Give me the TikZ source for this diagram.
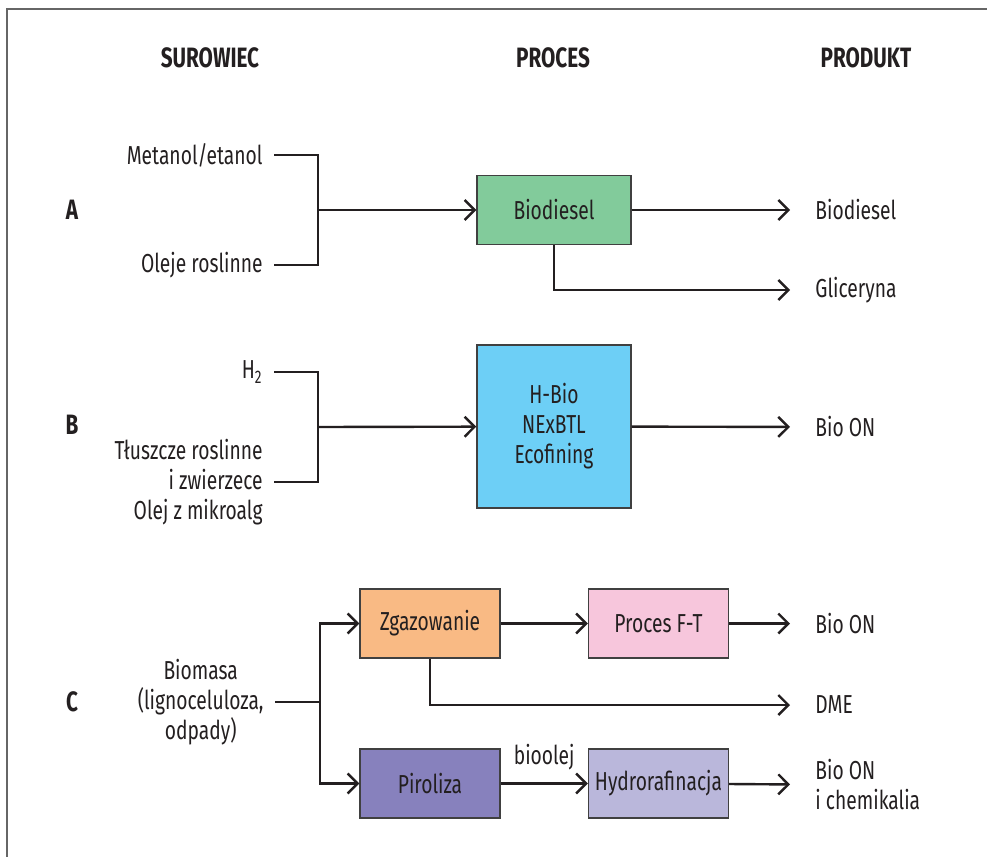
\documentclass[tikz,border=0pt]{standalone}
\usepackage{fontspec}
\setmainfont{Fira Sans}[FakeStretch=0.74]
\usetikzlibrary{arrows.meta}

\definecolor{kreska}{HTML}{231F20}
\definecolor{ramka}{HTML}{404040}
\definecolor{zielony}{HTML}{82CB9B}
\definecolor{niebieski}{HTML}{6DCFF6}
\definecolor{pomarancz}{HTML}{F9BA84}
\definecolor{roz}{HTML}{F7C6DC}
\definecolor{fiolet}{HTML}{8781BD}
\definecolor{lawenda}{HTML}{BAB7DB}

\begin{document}
\begin{tikzpicture}[x=0.5pt,y=-0.5pt,font=\fontsize{13}{15}\selectfont,
  linia/.style={line width=1.2pt,color=kreska},
  strz/.style={linia,-{Straight Barb[length=5pt,width=10pt]}},
  blok/.style={draw=ramka,line width=0.7pt,minimum height=34.5pt,inner sep=0pt,align=center,text=kreska},
  nagl/.style={font=\fontsize{14}{15}\selectfont\bfseries,text=kreska},
  wej/.style={anchor=east,align=right,inner xsep=5.5pt,inner ysep=0pt,text=kreska},
  wyj/.style={anchor=west,align=left,inner xsep=12.5pt,inner ysep=0pt,text=kreska}]
  \useasboundingbox (0,0) rectangle (987,857);

  % ramka
  \draw[line width=1pt,gray!80!black] (7,857) -- (7,9) -- (987,9);

  % naglowki
  \node[nagl] (hSur) at (210,58) {SUROWIEC};
  \node[nagl] (hPro) at (553,58) {PROCES};
  \node[nagl] (hPrd) at (866,58) {PRODUKT};
  \node[nagl] (lA) at (72,210) {A};
  \node[nagl] (lB) at (72,425) {B};
  \node[nagl] (lC) at (72,702) {C};

  % A: biodiesel
  \node[wej] (met) at (274,155) {Metanol/etanol};
  \node[wej] (ole) at (274,265) {Oleje roslinne};
  \coordinate (jA) at (318,210);
  \node[blok,fill=zielony,minimum width=77pt] (bio) at (554,210) {Biodiesel};
  \node[wyj] (pBio) at (790,210) {Biodiesel};
  \node[wyj] (pGli) at (790,290) {Gliceryna};
  \draw[linia] (met.east) -| (jA);
  \draw[linia] (ole.east) -| (jA);
  \draw[strz] (jA) -- (bio);
  \draw[strz] (bio) -- (pBio);
  \draw[strz] (bio.south) |- (pGli);

  % B: hydrorafinacja olejow
  \node[wej] (wod) at (274,372) {H\textsubscript{2}};
  \node[wej] (tlu) at (274,482) {Tłuszcze roslinne\\i zwierzece\\Olej z mikroalg};
  \coordinate (jB) at (318,427);
  \node[blok,fill=niebieski,minimum width=77pt,minimum height=81.5pt] (hbio) at (554,426.5) {H-Bio\\NExBTL\\Ecofining};
  \node[wyj] (pOnB) at (790,427) {Bio ON};
  \draw[linia] (wod.east) -| (jB);
  \draw[linia] (tlu.east) -| (jB);
  \draw[strz] (jB) -- (hbio);
  \draw[strz] (hbio) -- (pOnB);

  % C: biomasa
  \node[wej,align=center] (bms) at (275,702) {Biomasa\\(lignoceluloza,\\odpady)};
  \coordinate (jC) at (320,702);
  \node[blok,fill=pomarancz,minimum width=70pt] (zga) at (430,623.5) {Zgazowanie};
  \node[blok,fill=roz,minimum width=70pt] (ft) at (658.5,623.5) {Proces F-T};
  \node[blok,fill=fiolet,minimum width=70pt] (pir) at (430,783.5) {Piroliza};
  \node[blok,fill=lawenda,minimum width=70pt] (hyd) at (658.5,783.5) {Hydrorafinacja};
  \node[wyj] (pOnC) at (790,623.5) {Bio ON};
  \node[wyj] (pDme) at (790,705) {DME};
  \node[wyj] (pChe) at (790,785) {Bio ON\\i chemikalia};
  \draw[linia] (bms.east) -- (jC);
  \draw[strz] (jC) |- (zga.west);
  \draw[strz] (jC) |- (pir.west);
  \draw[strz] (zga) -- (ft);
  \draw[strz] (ft) -- (pOnC);
  \draw[strz] (zga.south) |- (pDme);
  \draw[strz] (pir) -- node[above=6pt,inner sep=0pt,text=kreska] (bol) {bioolej} (hyd);
  \draw[strz] (hyd) -- (pChe);
\end{tikzpicture}
\end{document}
